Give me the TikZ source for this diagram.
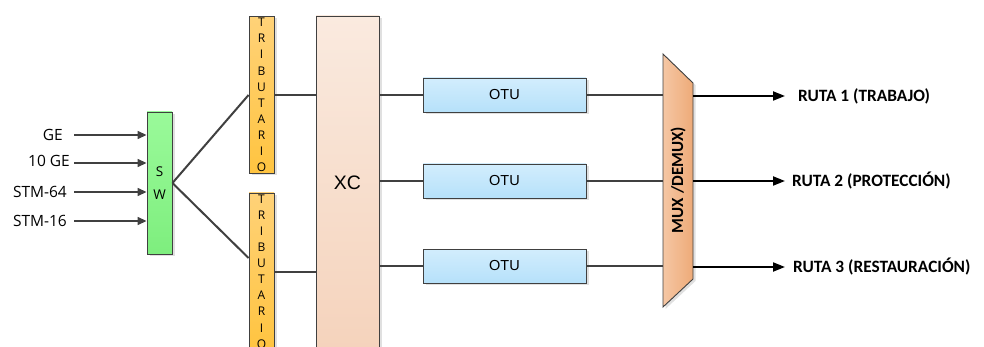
\documentclass[tikz,border=0pt]{standalone}
\usepackage{fontspec}
\setmainfont{Open Sans}
\newfontfamily\carlito{Carlito}
\newfontfamily\arialike{Liberation Sans}
\usetikzlibrary{arrows.meta,shadows,calc}

\definecolor{edgegray}{HTML}{404040}
\definecolor{swtop}{HTML}{9AFA9A}
\definecolor{swbot}{HTML}{7EEE7E}
\definecolor{tribtop}{HTML}{FFD278}
\definecolor{tribbot}{HTML}{FFC440}
\definecolor{xctop}{HTML}{FAEADF}
\definecolor{xcbot}{HTML}{F5D3BC}
\definecolor{otutop}{HTML}{D2EDFD}
\definecolor{otubot}{HTML}{B6E1FA}
\definecolor{muxleft}{HTML}{F5C7A4}
\definecolor{muxright}{HTML}{EEAA78}

\newcommand\tribletters{T\\R\\I\\B\\U\\T\\A\\R\\I\\O}

\tikzset{
  block/.style={draw=edgegray, line width=0.9pt, inner sep=0pt,
    drop shadow={shadow xshift=2.5pt, shadow yshift=-2pt, fill=black, opacity=0.12}},
  swbox/.style={block, minimum width=25pt, minimum height=142pt,
    top color=swtop, bottom color=swbot, align=center,
    font=\fontsize{13.5}{23}\selectfont},
  tribbox/.style={block, minimum width=25pt, minimum height=157pt,
    top color=tribtop, bottom color=tribbot, align=center,
    font=\fontsize{12}{16.1}\selectfont},
  xcbox/.style={block, minimum width=63pt, minimum height=334pt,
    top color=xctop, bottom color=xcbot, font=\arialike\fontsize{19.5}{20}\selectfont},
  otubox/.style={block, minimum width=163pt, minimum height=34pt,
    top color=otutop, bottom color=otubot, font=\arialike\fontsize{14.5}{16}\selectfont},
  inlabel/.style={anchor=east, inner sep=0pt, font=\fontsize{15.5}{17}\selectfont},
  outlabel/.style={anchor=west, inner sep=0pt, font=\carlito\bfseries\fontsize{17.3}{19}\selectfont},
  link/.style={draw=edgegray, line width=2pt},
  inarrow/.style={draw=edgegray, line width=1.4pt,
    -{Triangle[length=9pt, width=8pt]}},
  outarrow/.style={draw=black, line width=2pt,
    -{Triangle[length=12pt, width=9pt]}},
}

\begin{document}
\begin{tikzpicture}[x=1pt, y=-1pt]
\useasboundingbox (0,0) rectangle (984,347);
\clip (0,0) rectangle (984,347);

% switch, tributary cards and cross-connect
\node[swbox] (sw) at (159.5,183) {S\\W};
\node[tribbox] (tribA) at (261.5,95) {\tribletters};
\node[tribbox] (tribB) at (261.5,271.5) {\tribletters};
\node[xcbox] (xc) at (347.5,183) {XC};

% OTU blocks
\node[otubox] (otu1) at (504.5,95) {OTU};
\node[otubox] (otu2) at (504.5,181) {OTU};
\node[otubox] (otu3) at (504.5,266) {OTU};

% MUX/DEMUX trapezium
\coordinate (muxL) at (663,180);
\coordinate (muxR) at (693,180);
\fill[black, opacity=0.12] (665.5,56) -- (695.5,85) -- (695.5,281) -- (665.5,309) -- cycle;
\draw[edgegray, line width=0.9pt, left color=muxleft, right color=muxright]
  (663,54) -- (693,83) -- (693,279) -- (663,307) -- cycle;
\node[rotate=90, font=\carlito\bfseries\fontsize{17}{18}\selectfont] (mux) at (678,180) {MUX /DEMUX)};

% client inputs
\node[inlabel] (lGE)   at (63,135) {GE};
\node[inlabel] (l10GE) at (70,161) {10 GE};
\node[inlabel] (l64)   at (67,192) {STM-64};
\node[inlabel] (l16)   at (67,221) {STM-16};
\coordinate (in1) at (74,135);
\coordinate (in2) at (74,163);
\coordinate (in3) at (74,192);
\coordinate (in4) at (74,221);
\foreach \i in {1,2,3,4}
  \draw[inarrow] (in\i) -- (sw.west |- in\i);

% switch to tributaries
\draw[link] (sw.east) -- (tribA.west);
\draw[link] (sw.east) -- ([yshift=13.5pt]tribB.west);
\draw[link] (tribA.east) -- (tribA.east -| xc.west);
\draw[link] (tribB.east) -- (tribB.east -| xc.west);

% cross-connect to OTUs to MUX
\foreach \k in {1,2,3} {
  \draw[link] (otu\k.west -| xc.east) -- (otu\k.west);
  \draw[link] (otu\k.east) -- (otu\k.east -| muxL);
}

% output routes
\coordinate (r1) at (785,96);
\coordinate (r2) at (785,181);
\coordinate (r3) at (785,267);
\foreach \k in {1,2,3}
  \draw[outarrow] (r\k -| muxR) -- (r\k);
\node[outlabel] (t1) at (798,96) {RUTA 1 (TRABAJO)};
\node[outlabel] (t2) at (792,181) {RUTA 2 (PROTECCIÓN)};
\node[outlabel] (t3) at (793,267) {RUTA 3 (RESTAURACIÓN)};
\end{tikzpicture}
\end{document}
